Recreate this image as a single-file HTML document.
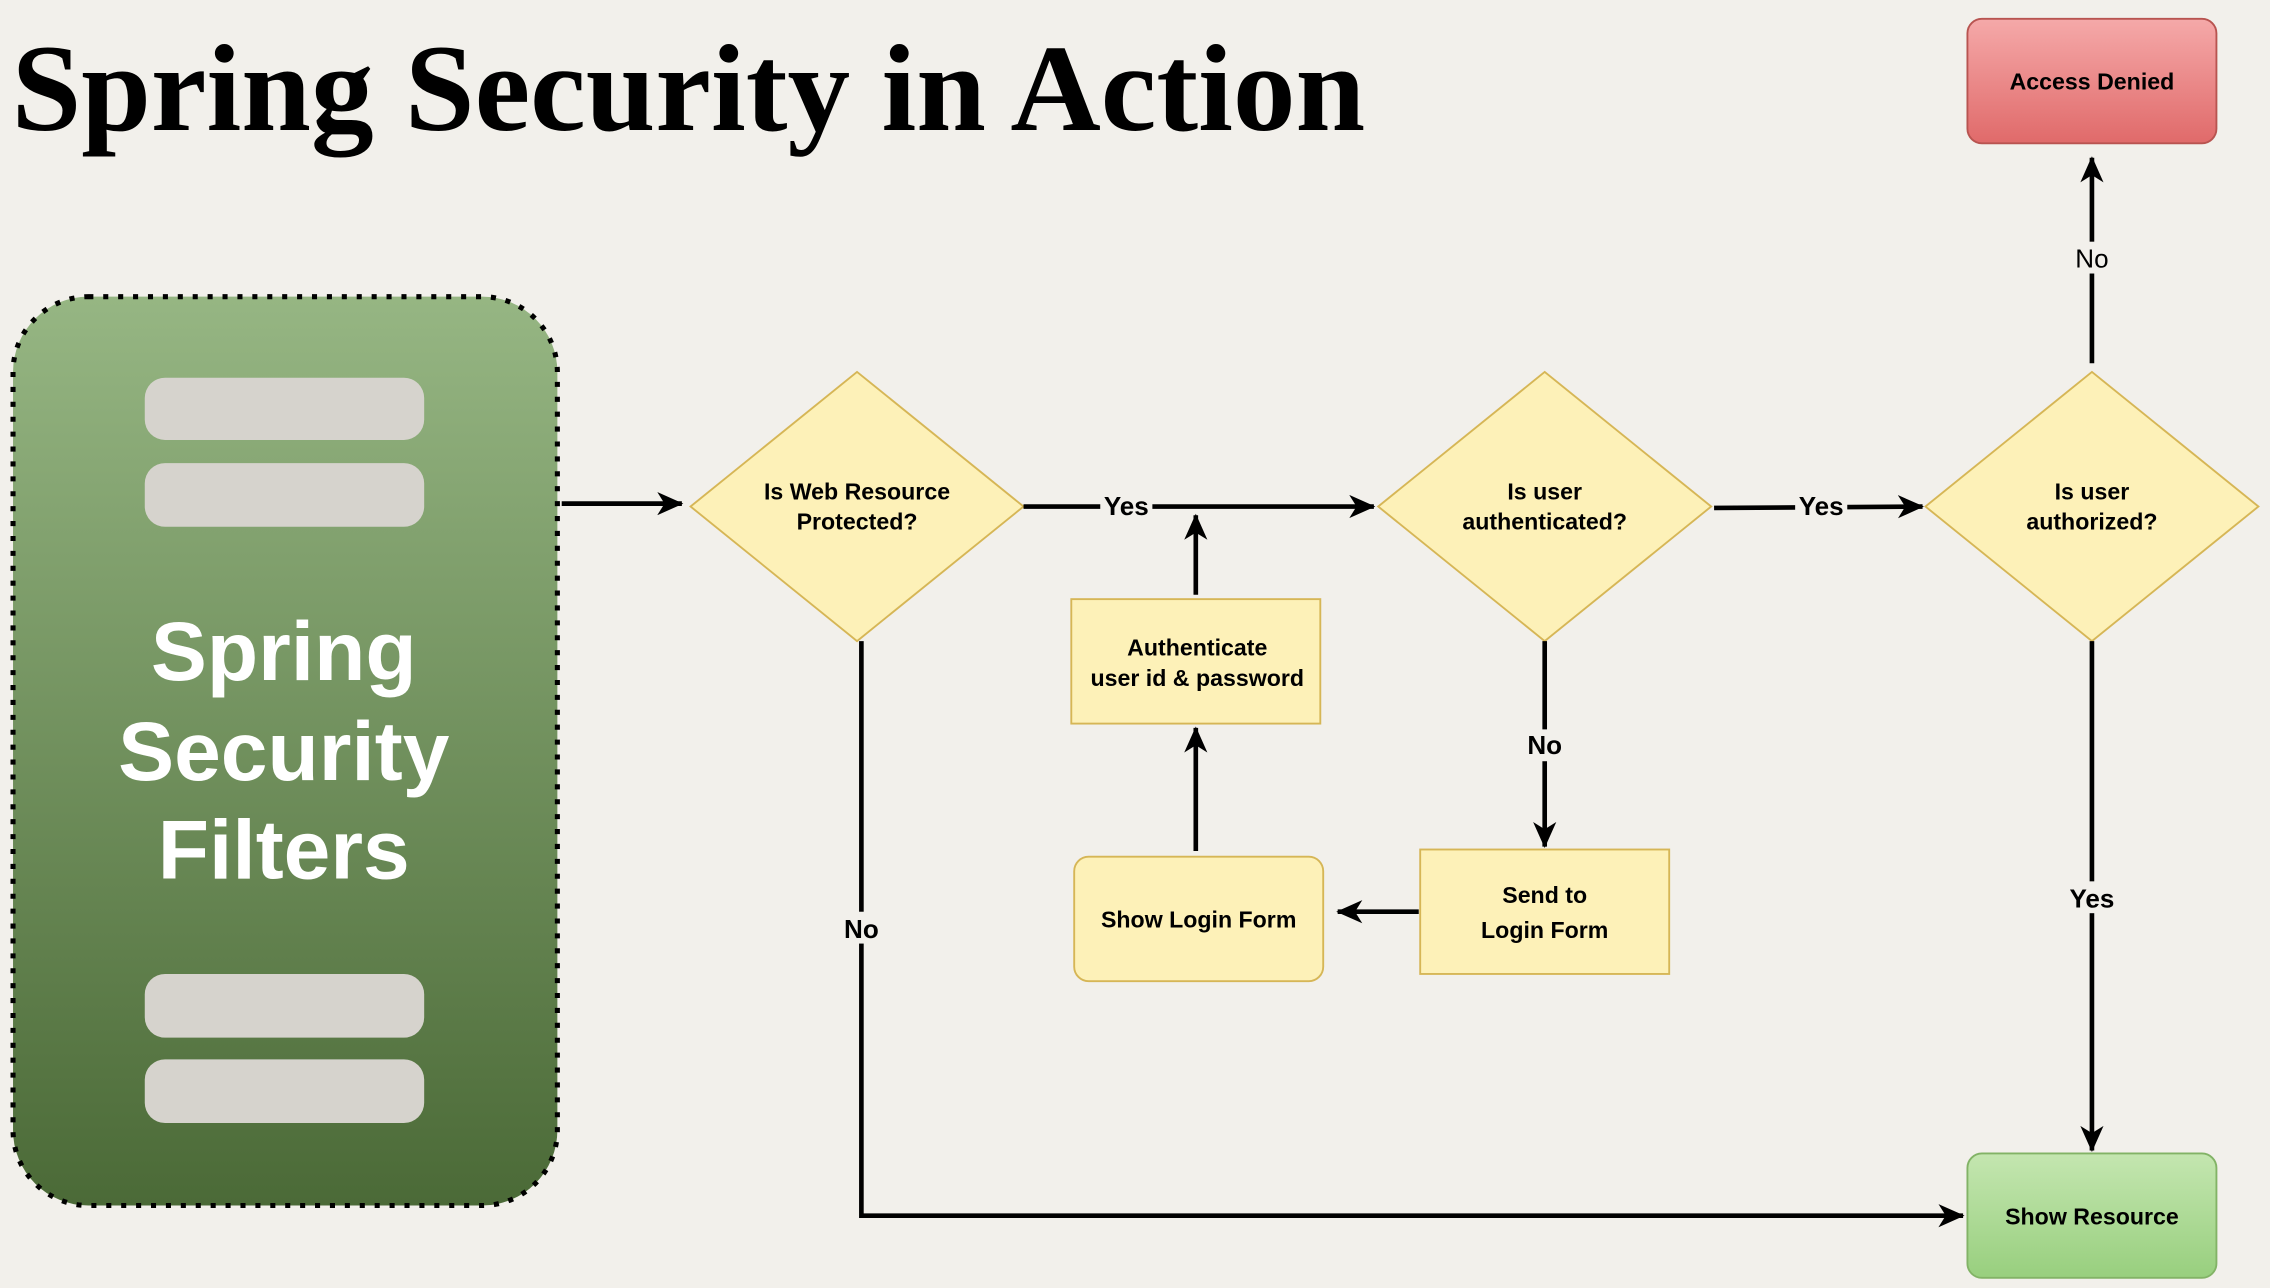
<!DOCTYPE html>
<html><head><meta charset="utf-8"><style>
html,body{margin:0;padding:0;background:#f2f0eb;}
svg{display:block;}
text{font-family:"Liberation Sans",sans-serif;}
</style></head><body>
<svg width="2270" height="1288" viewBox="0 0 1568 890" xmlns="http://www.w3.org/2000/svg" preserveAspectRatio="none">
<defs>
<linearGradient id="g" x1="0" y1="0" x2="0" y2="1"><stop offset="0" stop-color="#96b683"/><stop offset="1" stop-color="#4b6a37"/></linearGradient>
<linearGradient id="r" x1="0" y1="0" x2="0" y2="1"><stop offset="0" stop-color="#f5a9a9"/><stop offset="1" stop-color="#e06a6a"/></linearGradient>
<linearGradient id="gr" x1="0" y1="0" x2="0" y2="1"><stop offset="0" stop-color="#c4e6b0"/><stop offset="1" stop-color="#98cf7e"/></linearGradient>
<marker id="a" markerWidth="20" markerHeight="20" refX="17" refY="10" orient="auto" markerUnits="userSpaceOnUse" viewBox="0 0 20 20"><path d="M0,2 L18,10 L0,18 L5,10 Z" fill="#000"/></marker>
</defs>
<rect width="1568" height="890" fill="#f2f0eb"/>
<text x="8" y="90" font-weight="bold" font-size="86" textLength="935" lengthAdjust="spacingAndGlyphs" style="font-family:'Liberation Serif',serif">Spring Security in Action</text>

<rect x="9" y="205" width="376" height="628" rx="52" fill="url(#g)" stroke="#000" stroke-width="3.5" stroke-dasharray="3.5 6.8"/>
<g fill="#d6d3cd">
<rect x="100" y="261" width="193" height="43" rx="14"/>
<rect x="100" y="320" width="193" height="44" rx="14"/>
<rect x="100" y="673" width="193" height="44" rx="14"/>
<rect x="100" y="732" width="193" height="44" rx="14"/>
</g>
<g fill="#fff" font-weight="bold" font-size="58" text-anchor="middle">
<text x="196" y="470">Spring</text>
<text x="196" y="539">Security</text>
<text x="196" y="607">Filters</text>
</g>

<g fill="#fdf1b8" stroke="#d6b656" stroke-width="1.3">
<polygon points="477,350 592,257 707,350 592,443"/>
<polygon points="952,350 1067,257 1182,350 1067,443"/>
<polygon points="1330,350 1445,257 1560,350 1445,443"/>
<rect x="740" y="414" width="172" height="86"/>
<rect x="742" y="592" width="172" height="86" rx="10"/>
<rect x="981" y="587" width="172" height="86"/>
</g>
<rect x="1359" y="13" width="172" height="86" rx="10" fill="url(#r)" stroke="#b85450" stroke-width="1.3"/>
<rect x="1359" y="797" width="172" height="86" rx="10" fill="url(#gr)" stroke="#82b366" stroke-width="1.3"/>

<g stroke="#000" stroke-width="3.2" fill="none">
<line x1="388" y1="348" x2="471" y2="348" marker-end="url(#a)"/>
<line x1="707" y1="350" x2="949" y2="350" marker-end="url(#a)"/>
<line x1="826" y1="411" x2="826" y2="356" marker-end="url(#a)"/>
<line x1="826" y1="588" x2="826" y2="503" marker-end="url(#a)"/>
<line x1="980" y1="630" x2="924" y2="630" marker-end="url(#a)"/>
<line x1="1067" y1="443" x2="1067" y2="585" marker-end="url(#a)"/>
<line x1="1184" y1="351" x2="1328" y2="350" marker-end="url(#a)"/>
<line x1="1445" y1="251" x2="1445" y2="109" marker-end="url(#a)"/>
<line x1="1445" y1="443" x2="1445" y2="795" marker-end="url(#a)"/>
<polyline points="595,443 595,840 1356,840" marker-end="url(#a)"/>
</g>

<g font-weight="bold" font-size="18" text-anchor="middle" fill="#000">
<rect x="760" y="340" width="36" height="20" fill="#f2f0eb"/>
<text x="778" y="356">Yes</text>
<rect x="1240" y="340" width="36" height="20" fill="#f2f0eb"/>
<text x="1258" y="356">Yes</text>
<rect x="1050" y="504" width="34" height="22" fill="#f2f0eb"/>
<text x="1067" y="521">No</text>
<rect x="1428" y="609" width="34" height="22" fill="#f2f0eb"/>
<text x="1445" y="627">Yes</text>
<rect x="578" y="630" width="34" height="22" fill="#f2f0eb"/>
<text x="595" y="648">No</text>
<rect x="1430" y="167" width="30" height="22" fill="#f2f0eb"/>
<text x="1445" y="185" font-weight="normal">No</text>
</g>

<g font-weight="bold" font-size="16" text-anchor="middle" fill="#000">
<text x="592" y="345">Is Web Resource</text>
<text x="592" y="366">Protected?</text>
<text x="1067" y="345">Is user</text>
<text x="1067" y="366">authenticated?</text>
<text x="1445" y="345">Is user</text>
<text x="1445" y="366">authorized?</text>
<text x="827" y="453">Authenticate</text>
<text x="827" y="474">user id &amp; password</text>
<text x="828" y="641">Show Login Form</text>
<text x="1067" y="624">Send to</text>
<text x="1067" y="648">Login Form</text>
<text x="1445" y="62">Access Denied</text>
<text x="1445" y="846">Show Resource</text>
</g>
</svg>
</body></html>
